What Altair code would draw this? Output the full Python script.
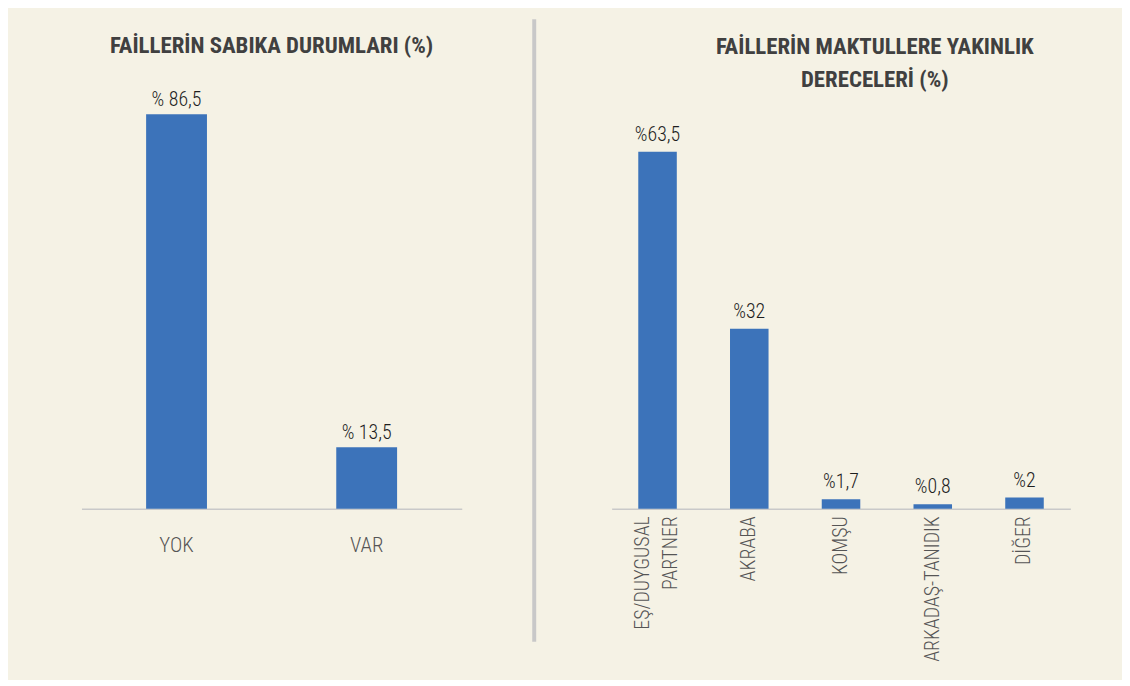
import altair as alt
import pandas as pd

# ---- data ----
left_categories = ["YOK", "VAR"]
left_values = [86.5, 13.5]
left_labels = ["% 86,5", "% 13,5"]

right_categories = ["EŞ/DUYGUSAL PARTNER", "AKRABA", "KOMŞU", "ARKADAŞ-TANIDIK", "DİĞER"]
right_values = [63.5, 32, 1.7, 0.8, 2]
right_labels = ["%63,5", "%32", "%1,7", "%0,8", "%2"]

left_title = ["FAİLLERİN SABIKA DURUMLARI (%)"]
right_title = ["FAİLLERİN MAKTULLERE YAKINLIK", "DERECELERİ (%)"]

FONT = "Roboto Condensed, DejaVu Sans Condensed, sans-serif"
BAR = "#3C73BA"
BG = "#F5F2E5"
AXIS_C = "#C9C9C9"
PLOT_H = 409
PLOT_TOP = 100

left_df = pd.DataFrame({"cat": left_categories, "val": left_values, "lab": left_labels})
right_df = pd.DataFrame({"cat": right_categories, "val": right_values, "lab": right_labels})

base_l = alt.Chart(left_df).encode(
    x=alt.X("cat:N", sort=left_categories,
            scale=alt.Scale(paddingInner=0.68, paddingOuter=0.34),
            axis=alt.Axis(title=None, labelAngle=0, labelFontSize=21, labelFontWeight=300,
                          labelPadding=26, ticks=False, domainColor=AXIS_C, domainWidth=1.5,
                          labelColor="#555555", labelFont=FONT)),
    y=alt.Y("val:Q", scale=alt.Scale(domain=[0, 89.0]), axis=None),
)
left = alt.layer(
    base_l.mark_bar(color=BAR),
    base_l.mark_text(dy=-14, fontSize=20, fontWeight=300, color="#1E1E1E", font=FONT).encode(text="lab:N"),
).properties(width=383, height=PLOT_H,
             title=alt.TitleParams(left_title, offset=33, frame="group"))

divider = alt.Chart(pd.DataFrame({"d": [0]})).mark_rule(
    color="#C8C8C8", strokeWidth=4).encode(
    x=alt.value(-6), y=alt.value(16 - PLOT_TOP), y2=alt.value(643 - PLOT_TOP)
).properties(width=1, height=PLOT_H)

label_expr = ("datum.value == 'EŞ/DUYGUSAL PARTNER' ? ['EŞ/DUYGUSAL', 'PARTNER'] : datum.value")
base_r = alt.Chart(right_df).encode(
    x=alt.X("cat:N", sort=right_categories,
            scale=alt.Scale(paddingInner=0.58, paddingOuter=0.29),
            axis=alt.Axis(title=None, labelAngle=-90, labelFontSize=20, labelFontWeight=300,
                          labelPadding=7, labelLineHeight=29, labelExpr=label_expr,
                          labelOffset={"condition": {"test": "datum.value == 'EŞ/DUYGUSAL PARTNER'",
                                                     "value": -15}, "value": 0},
                          ticks=False, domainColor=AXIS_C, domainWidth=1.5,
                          labelColor="#555555", labelFont=FONT)),
    y=alt.Y("val:Q", scale=alt.Scale(domain=[0, 72.2]), axis=None),
)
right = alt.layer(
    base_r.mark_bar(color=BAR),
    base_r.mark_text(dy=-17, fontSize=20, fontWeight=300, color="#1E1E1E", font=FONT).encode(text="lab:N"),
).properties(width=462, height=PLOT_H,
             title=alt.TitleParams(right_title, offset=11, dx=34, lineHeight=33, frame="group"))

chart = alt.hconcat(left, divider, right, spacing=71).resolve_scale(x="independent", y="independent").properties(
    background=BG,
    padding={"left": 74, "top": 7, "right": 52, "bottom": 16},
).configure_view(stroke=None).configure_title(
    font=FONT, fontSize=23, fontWeight="bold", color="#404040", anchor="middle"
)

chart.save("out.html", embed_options={"renderer": "svg", "actions": False})
